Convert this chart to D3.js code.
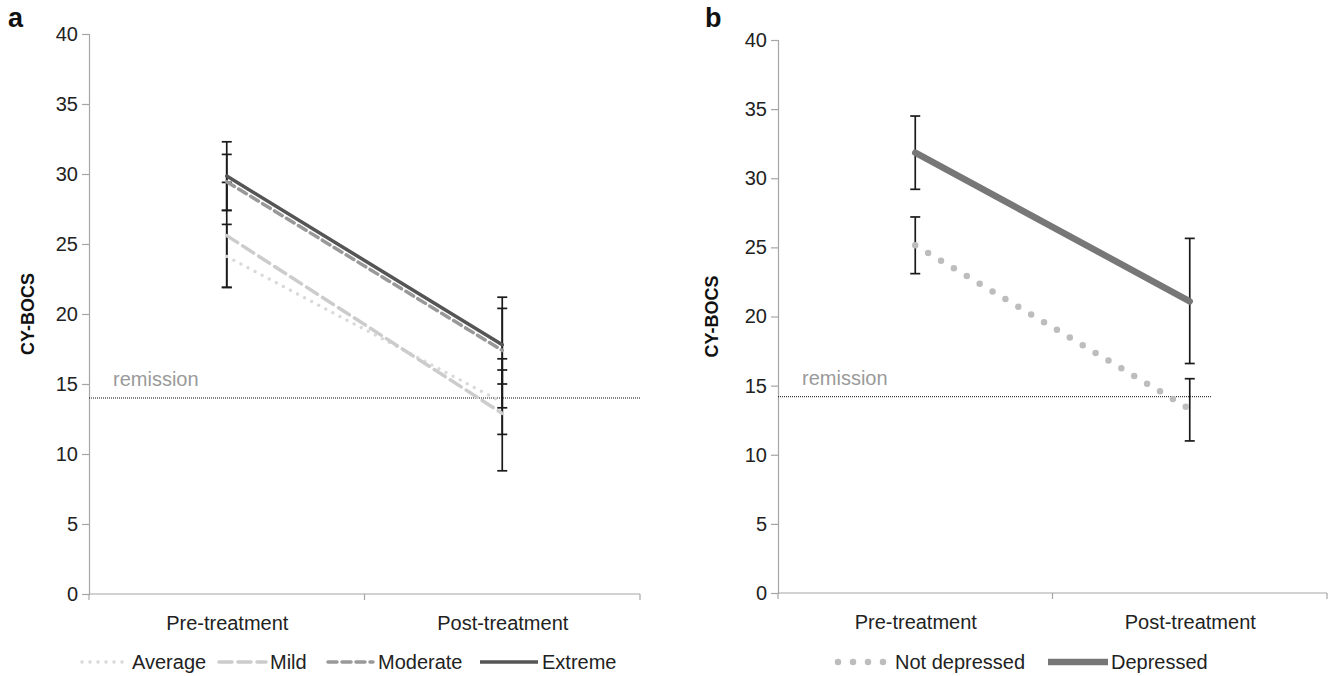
<!DOCTYPE html>
<html>
<head>
<meta charset="utf-8">
<script src="https://cdn.jsdelivr.net/npm/d3@7"></script>
<style>
  html, body { margin: 0; padding: 0; background: #fff; }
  svg { display: block; font-family: "Liberation Sans", Arial, Helvetica, sans-serif; }
</style>
</head>
<body>
<svg id="chart" width="1333" height="676"></svg>
<script>
// ---------------- DATA ----------------
const categories = ["Pre-treatment", "Post-treatment"];
const yTickValues = [0, 5, 10, 15, 20, 25, 30, 35, 40];
const remissionA = 14;
const remissionB = 14.2;

// Panel a: severity groups
const aNames = ["Average", "Mild", "Moderate", "Extreme"];
const aAverage = [24.1, 13.7];
const aAverageLow = [21.9, 11.4];
const aAverageHigh = [26.4, 16.0];
const aMild = [25.6, 12.9];
const aMildLow = [21.9, 8.8];
const aMildHigh = [29.4, 16.8];
const aModerate = [29.45, 17.4];
const aModerateLow = [27.4, 13.3];
const aModerateHigh = [31.4, 21.2];
const aExtreme = [29.85, 17.8];
const aExtremeLow = [27.4, 15.0];
const aExtremeHigh = [32.3, 20.4];

// Panel b: depression groups
const bNames = ["Not depressed", "Depressed"];
const bNotDepressed = [25.15, 13.3];
const bNotDepressedLow = [23.1, 11.0];
const bNotDepressedHigh = [27.2, 15.5];
const bDepressed = [31.85, 21.1];
const bDepressedLow = [29.2, 16.6];
const bDepressedHigh = [34.5, 25.65];

// ---------------- STYLES ----------------
const styles = {
  "Average":       { color: "#d9d9d9", width: 3.5, dash: "0,8",  cap: "round" },
  "Mild":          { color: "#cccccc", width: 3.5, dash: "13,6", cap: "round" },
  "Moderate":      { color: "#999999", width: 3.5, dash: "9,5",  cap: "round" },
  "Extreme":       { color: "#555555", width: 3.5, dash: null,   cap: "round" },
  "Not depressed": { color: "#bdbdbd", width: 6.5, dash: "0,15", cap: "round" },
  "Depressed":     { color: "#777777", width: 6.5, dash: null,   cap: "round" }
};

const svg = d3.select("#chart");
const FONT = 20;

function drawPanel(cfg) {
  const g = svg.append("g");
  const x = d3.scalePoint().domain(categories).range([cfg.x0, cfg.x1]).padding(0.5);
  const y = d3.scaleLinear().domain([0, 40]).range([cfg.yBottom, cfg.yTop]);

  // y axis
  const yAxis = d3.axisLeft(y).tickValues(yTickValues).tickSize(7).tickPadding(4);
  const ya = g.append("g").attr("transform", `translate(${cfg.x0},0)`).call(yAxis);
  ya.select(".domain").attr("stroke", "#a6a6a6").attr("stroke-width", 1.2);
  ya.selectAll(".tick line").attr("stroke", "#a6a6a6").attr("stroke-width", 1.2);
  ya.selectAll(".tick text").attr("font-size", FONT).attr("fill", "#222")
    .attr("font-family", "'Liberation Sans', Arial, sans-serif");

  // x axis (labels at centers, ticks at band boundaries)
  const xAxis = d3.axisBottom(x).tickSize(0).tickPadding(22);
  const xa = g.append("g").attr("transform", `translate(0,${cfg.yBottom})`).call(xAxis);
  xa.select(".domain").attr("stroke", "#a6a6a6").attr("stroke-width", 1.2)
    .attr("d", `M${cfg.x0},0H${cfg.x1}`);
  xa.selectAll(".tick text").attr("font-size", FONT).attr("fill", "#222")
    .attr("font-family", "'Liberation Sans', Arial, sans-serif");
  const step = x.step();
  const bounds = [cfg.x0, cfg.x0 + step, cfg.x0 + 2 * step];
  xa.selectAll("line.bound").data(bounds).enter().append("line")
    .attr("class", "bound")
    .attr("x1", d => d).attr("x2", d => d).attr("y1", 0).attr("y2", 6)
    .attr("stroke", "#a6a6a6").attr("stroke-width", 1.2);

  // y label
  g.append("text")
    .attr("transform", `translate(${cfg.labelX},${(cfg.yTop + cfg.yBottom) / 2}) rotate(-90)`)
    .attr("text-anchor", "middle")
    .attr("font-size", 18).attr("font-weight", "bold").attr("fill", "#111")
    .text("CY-BOCS");

  // panel letter
  g.append("text").attr("x", cfg.letterX).attr("y", 27)
    .attr("font-size", 27).attr("font-weight", "bold").attr("fill", "#111")
    .text(cfg.letter);

  // remission line
  g.append("line")
    .attr("x1", cfg.x0).attr("x2", cfg.remEnd)
    .attr("y1", y(cfg.remission)).attr("y2", y(cfg.remission))
    .attr("stroke", "#111").attr("stroke-width", 1).attr("stroke-dasharray", "1,1");
  g.append("text").attr("x", cfg.x0 + 24).attr("y", y(cfg.remission) - 12)
    .attr("font-size", 20).attr("fill", "#9a9a9a").text("remission");

  // error bars
  const capW = 5;
  cfg.series.forEach(s => {
    categories.forEach((c, i) => {
      const cx = x(c);
      const eb = g.append("g");
      eb.append("line").attr("x1", cx).attr("x2", cx)
        .attr("y1", y(s.low[i])).attr("y2", y(s.high[i]))
        .attr("stroke", "#1a1a1a").attr("stroke-width", 1.7);
      [s.low[i], s.high[i]].forEach(v => {
        eb.append("line").attr("x1", cx - capW).attr("x2", cx + capW)
          .attr("y1", y(v)).attr("y2", y(v))
          .attr("stroke", "#1a1a1a").attr("stroke-width", 1.7);
      });
    });
  });

  // lines
  const line = d3.line().x((d, i) => x(categories[i])).y(d => y(d));
  cfg.series.forEach(s => {
    const st = styles[s.name];
    g.append("path").datum(s.values)
      .attr("d", line).attr("fill", "none")
      .attr("stroke", st.color).attr("stroke-width", st.width)
      .attr("stroke-linecap", st.cap)
      .attr("stroke-dasharray", st.dash);
  });

  // legend
  cfg.legend.forEach(item => {
    const st = styles[item.name];
    g.append("line")
      .attr("x1", item.x1).attr("x2", item.x2)
      .attr("y1", cfg.legendY - 7).attr("y2", cfg.legendY - 7)
      .attr("stroke", st.color).attr("stroke-width", st.width)
      .attr("stroke-linecap", st.dash ? "round" : "butt")
      .attr("stroke-dasharray", st.dash);
    g.append("text").attr("x", item.tx).attr("y", cfg.legendY)
      .attr("font-size", FONT).attr("fill", "#222").text(item.name);
  });
}

drawPanel({
  letter: "a", letterX: 8, labelX: 34,
  x0: 89, x1: 640, yTop: 34, yBottom: 594,
  remission: remissionA, remEnd: 640,
  series: [
    { name: "Average",  values: aAverage,  low: aAverageLow,  high: aAverageHigh },
    { name: "Mild",     values: aMild,     low: aMildLow,     high: aMildHigh },
    { name: "Moderate", values: aModerate, low: aModerateLow, high: aModerateHigh },
    { name: "Extreme",  values: aExtreme,  low: aExtremeLow,  high: aExtremeHigh }
  ],
  legendY: 669,
  legend: [
    { name: aNames[0], x1: 82,  x2: 128, tx: 132 },
    { name: aNames[1], x1: 219, x2: 266, tx: 270 },
    { name: aNames[2], x1: 328, x2: 373, tx: 378 },
    { name: aNames[3], x1: 480, x2: 538, tx: 542 }
  ]
});

drawPanel({
  letter: "b", letterX: 705, labelX: 718,
  x0: 778, x1: 1327, yTop: 40, yBottom: 593,
  remission: remissionB, remEnd: 1212,
  series: [
    { name: "Not depressed", values: bNotDepressed, low: bNotDepressedLow, high: bNotDepressedHigh },
    { name: "Depressed",     values: bDepressed,    low: bDepressedLow,    high: bDepressedHigh }
  ],
  legendY: 669,
  legend: [
    { name: bNames[0], x1: 838,  x2: 886,  tx: 895 },
    { name: bNames[1], x1: 1048, x2: 1108, tx: 1111 }
  ]
});
</script>
</body>
</html>
